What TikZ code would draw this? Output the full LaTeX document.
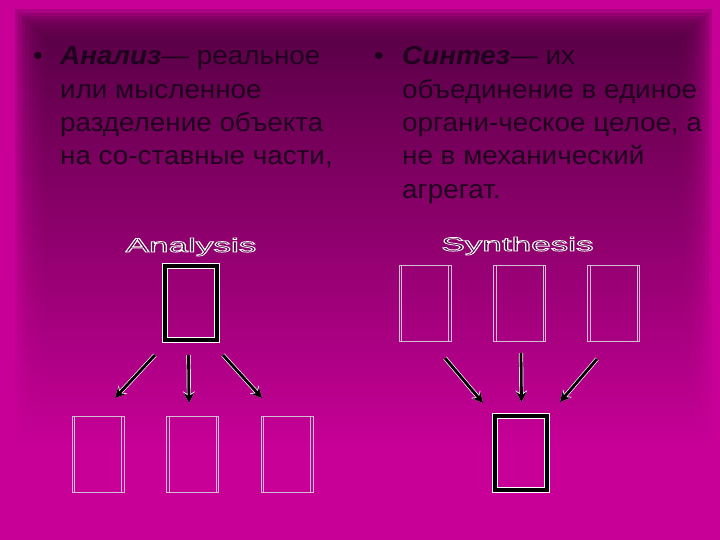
\documentclass[tikz,border=0pt]{standalone}
\usepackage{fontspec}
\setmainfont{Liberation Sans}
\usetikzlibrary{arrows.meta,calc}
\definecolor{bgmag}{RGB}{200,0,152}
\definecolor{panel}{RGB}{86,0,68}
\definecolor{ink}{RGB}{30,0,30}
\definecolor{thinline}{RGB}{210,190,210}
\newcommand{\outlined}[1]{\special{pdf:literal direct 2 Tr 0.7 w 1 1 1 RG}#1\special{pdf:literal direct 0 Tr}}
\tikzset{
  txt/.style={anchor=base west, inner sep=0pt, text=ink, xscale=1.07, font=\fontsize{26}{33}\selectfont},
  lbl/.style={anchor=base, inner sep=0pt, xscale=1.8, text=panel, font=\fontsize{19.5}{20}\selectfont},
  bigbox/.style={draw=white, double=black, line width=0.9pt, double distance=4pt, minimum width=52pt, minimum height=74pt, inner sep=0pt},
  thinbox/.style={draw=thinline, line width=0.9pt, minimum width=52pt, minimum height=76pt, inner sep=0pt},
  inner/.style={draw=thinline, line width=0.8pt},
  arr/.style={line width=2.8pt, draw=black, -{Stealth[length=10pt,width=10pt]},
    preaction={draw=white, line width=4.2pt, -{Stealth[length=11.5pt,width=11.5pt]}}}
}
\begin{document}
\begin{tikzpicture}[x=1pt,y=-1pt]
\useasboundingbox (0,0) rectangle (720,540);
\fill[bgmag] (0,0) rectangle (720,540);
\foreach \i in {0,...,9} {
  \pgfmathsetmacro\xl{15+3.5*\i}
  \pgfmathsetmacro\xr{712-3.4*\i}
  \pgfmathsetmacro\yt{10+3.2*\i}
  \shade[top color=panel, middle color=panel!78!bgmag, bottom color=bgmag, opacity=0.26]
    (\xl,\yt) rectangle (\xr,450);
}
% left text
\node[txt] (lb) at (33,65) {•};
\node[txt] (l1) at (60,65) {\textbf{\textit{Анализ}}— реальное};
\node[txt] (l2) at (60,98.3) {или мысленное};
\node[txt] (l3) at (60,131.6) {разделение объекта};
\node[txt] (l4) at (60,165) {на со-ставные части,};
% right text
\node[txt] (rb) at (374,65) {•};
\node[txt] (r1) at (402,65) {\textbf{\textit{Синтез}}— их};
\node[txt] (r2) at (402,98.3) {объединение в единое};
\node[txt] (r3) at (402,131.6) {органи-ческое целое, а};
\node[txt] (r4) at (402,165) {не в механический};
\node[txt] (r5) at (402,198.3) {агрегат.};
% outlined labels
\node[lbl] (anl) at (191,252) {\outlined{Analysis}};
\node[lbl] (syn) at (517.5,251) {\outlined{Synthesis}};
% analysis boxes
\node[bigbox] (atop) at (191,303) {};
\node[thinbox] (ab1) at (98,454) {};
\node[thinbox] (ab2) at (192.5,454) {};
\node[thinbox] (ab3) at (287,454) {};
% synthesis boxes
\node[thinbox] (st1) at (425,303) {};
\node[thinbox] (st2) at (519.5,303) {};
\node[thinbox] (st3) at (613.5,303) {};
\node[bigbox] (sbot) at (521,453) {};
\foreach \n in {ab1,ab2,ab3,st1,st2,st3} {
  \draw[inner] ([xshift=3pt]\n.north west) -- ([xshift=3pt]\n.south west);
  \draw[inner] ([xshift=-3pt]\n.north east) -- ([xshift=-3pt]\n.south east);
}
% arrow end points
\coordinate (a1s) at (155,355); \coordinate (a1e) at (115,398);
\coordinate (a2s) at (188.5,355); \coordinate (a2e) at (189,403);
\coordinate (a3s) at (223,355); \coordinate (a3e) at (262,398);
\coordinate (s1s) at (445,358); \coordinate (s1e) at (483,403);
\coordinate (s2s) at (521,353); \coordinate (s2e) at (521.5,402);
\coordinate (s3s) at (597,359); \coordinate (s3e) at (560,402);
\draw[arr] (a1s) -- (a1e);
\draw[arr] (a2s) -- (a2e);
\draw[arr] (a3s) -- (a3e);
\draw[arr] (s1s) -- (s1e);
\draw[arr] (s2s) -- (s2e);
\draw[arr] (s3s) -- (s3e);
\end{tikzpicture}
\end{document}
